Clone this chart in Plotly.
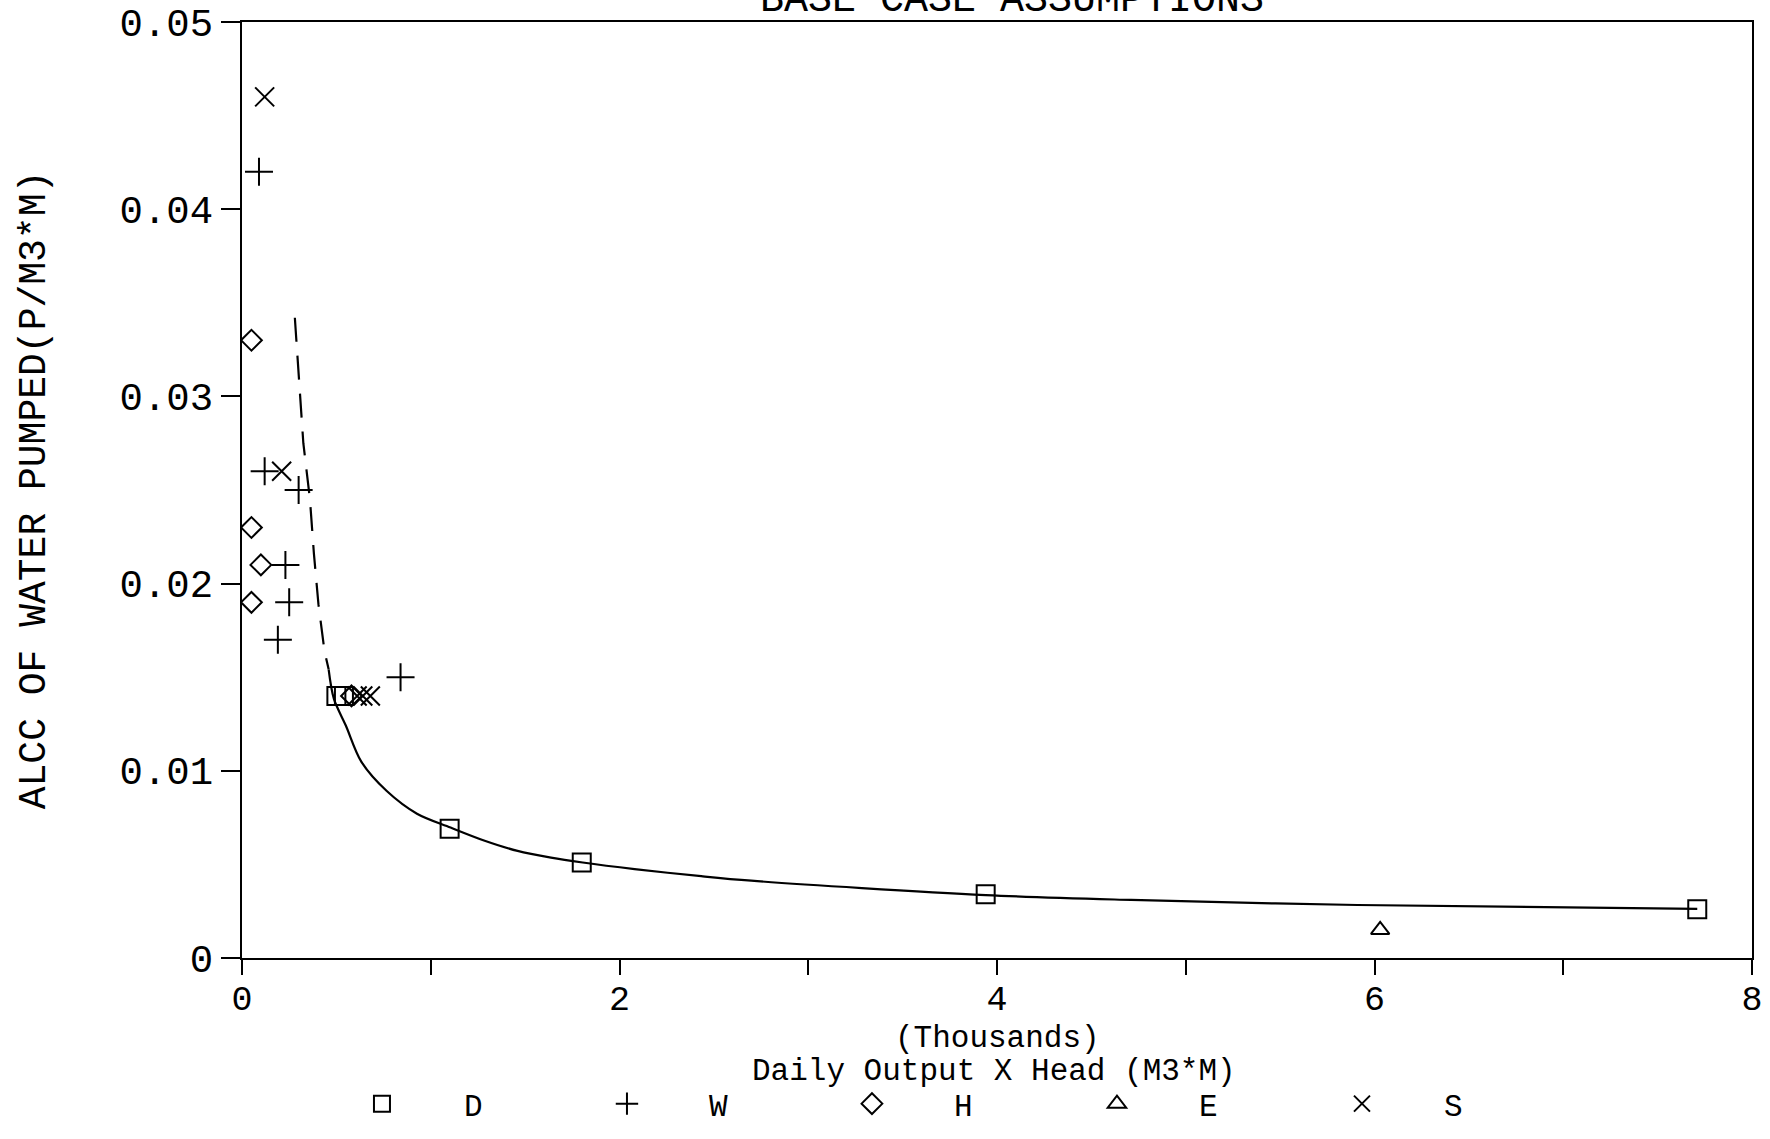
import plotly.graph_objects as go

# ---- data (x in thousands of M3*M, y in P/M3*M) ----
d_x = [0.50, 0.54, 1.10, 1.80, 3.94, 7.71]
d_y = [0.0140, 0.0140, 0.0069, 0.0051, 0.0034, 0.0026]

w_x = [0.09, 0.12, 0.30, 0.23, 0.25, 0.19, 0.84]
w_y = [0.042, 0.026, 0.025, 0.021, 0.019, 0.017, 0.015]

h_x = [0.05, 0.05, 0.10, 0.05, 0.58]
h_y = [0.033, 0.023, 0.021, 0.019, 0.014]

e_x = [6.03]
e_y = [0.0015]

s_x = [0.12, 0.21, 0.61, 0.64, 0.68]
s_y = [0.046, 0.026, 0.014, 0.014, 0.014]

fit_x = [0.459, 0.487, 0.550, 0.632, 0.767, 0.927, 1.105, 1.282, 1.460, 1.637,
         1.805, 2.080, 2.433, 2.698, 3.940, 4.710, 5.910, 7.710]
fit_y = [0.01542, 0.01384, 0.01242, 0.01049, 0.00892, 0.00771, 0.00697, 0.00628,
         0.00572, 0.00536, 0.00510, 0.00475, 0.00437, 0.00413, 0.00336, 0.00310,
         0.00283, 0.00262]

ext_x = [0.280, 0.325, 0.360, 0.381, 0.405, 0.437, 0.459]
ext_y = [0.0342, 0.0275, 0.0245, 0.0216, 0.0189, 0.0164, 0.01542]

x_ticks = [0, 1, 2, 3, 4, 5, 6, 7, 8]
x_ticktext = ["0", "", "2", "", "4", "", "6", "", "8"]
y_ticks = [0, 0.01, 0.02, 0.03, 0.04, 0.05]
y_ticktext = ["0", "0.01", "0.02", "0.03", "0.04", "0.05"]

FONT = "Liberation Mono, DejaVu Sans Mono, monospace"
pad = "\u2002\u2002\u2002\u2002"

fig = go.Figure()

fig.add_trace(go.Scatter(x=ext_x, y=ext_y, mode="lines", showlegend=False,
                         line=dict(color="black", width=2.2, dash="24px,14px")))
fig.add_trace(go.Scatter(x=fit_x, y=fit_y, mode="lines", showlegend=False,
                         line=dict(color="black", width=2.2, shape="spline", smoothing=0.9)))

mk_line = dict(color="black", width=2)
fig.add_trace(go.Scatter(x=d_x, y=d_y, mode="markers", name=pad + "D",
                         marker=dict(symbol="square-open", size=18, color="black", line=mk_line)))
fig.add_trace(go.Scatter(x=w_x, y=w_y, mode="markers", name=pad + "W",
                         marker=dict(symbol="cross-thin-open", size=20, color="black", line=mk_line)))
fig.add_trace(go.Scatter(x=h_x, y=h_y, mode="markers", name=pad + "H",
                         marker=dict(symbol="diamond-open", size=16, color="black", line=mk_line)))
fig.add_trace(go.Scatter(x=e_x, y=e_y, mode="markers", name=pad + "E",
                         marker=dict(symbol="triangle-up-open", size=16, color="black", line=mk_line)))
fig.add_trace(go.Scatter(x=s_x, y=s_y, mode="markers", name=pad + "S",
                         marker=dict(symbol="x-thin-open", size=19, color="black", line=mk_line)))

PB = 958.0   # plot bottom (px)
PH = 936.0   # plot height (px)

fig.update_layout(
    width=1770, height=1139,
    margin=dict(l=242, r=18, t=22, b=181, autoexpand=False),
    paper_bgcolor="white", plot_bgcolor="white",
    font=dict(family=FONT, size=31, color="black"),
    showlegend=True,
    legend=dict(orientation="h", xref="container", yref="container",
                x=0.2045, y=1 - 1104 / 1139, xanchor="left", yanchor="middle",
                entrywidth=200, entrywidthmode="pixels",
                font=dict(family=FONT, size=31, color="black"),
                itemwidth=30, bgcolor="rgba(0,0,0,0)"),
    xaxis=dict(range=[0, 8], tickvals=x_ticks, ticktext=x_ticktext,
               ticks="outside", ticklen=15, tickwidth=2, tickcolor="black",
               ticklabelstandoff=-7,
               showline=True, linecolor="black", linewidth=2, mirror=True,
               showgrid=False, zeroline=False,
               tickfont=dict(family=FONT, size=35)),
    yaxis=dict(range=[0, 0.05], tickvals=y_ticks, ticktext=y_ticktext,
               ticks="outside", ticklen=19, tickwidth=2, tickcolor="black",
               showline=True, linecolor="black", linewidth=2, mirror=True,
               showgrid=False, zeroline=False,
               tickfont=dict(family=FONT, size=39),
               title=dict(text="ALCC OF WATER PUMPED(P/M3*M)",
                          font=dict(family=FONT, size=38), standoff=62)),
    annotations=[
        dict(text="BASE CASE ASSUMPTIONS", xref="paper", yref="paper",
             x=0.51, y=1.0235, xanchor="center", yanchor="middle",
             showarrow=False, font=dict(family=FONT, size=40)),
        dict(text="(Thousands)", xref="paper", yref="paper",
             x=(997 - 242) / 1510, y=(PB - 1038) / PH, xanchor="center", yanchor="middle",
             showarrow=False, font=dict(family=FONT, size=31)),
        dict(text="Daily Output X Head (M3*M)", xref="paper", yref="paper",
             x=(994 - 242) / 1510, y=(PB - 1071) / PH, xanchor="center", yanchor="middle",
             showarrow=False, font=dict(family=FONT, size=31)),
    ],
)

fig.write_html("out.html")
